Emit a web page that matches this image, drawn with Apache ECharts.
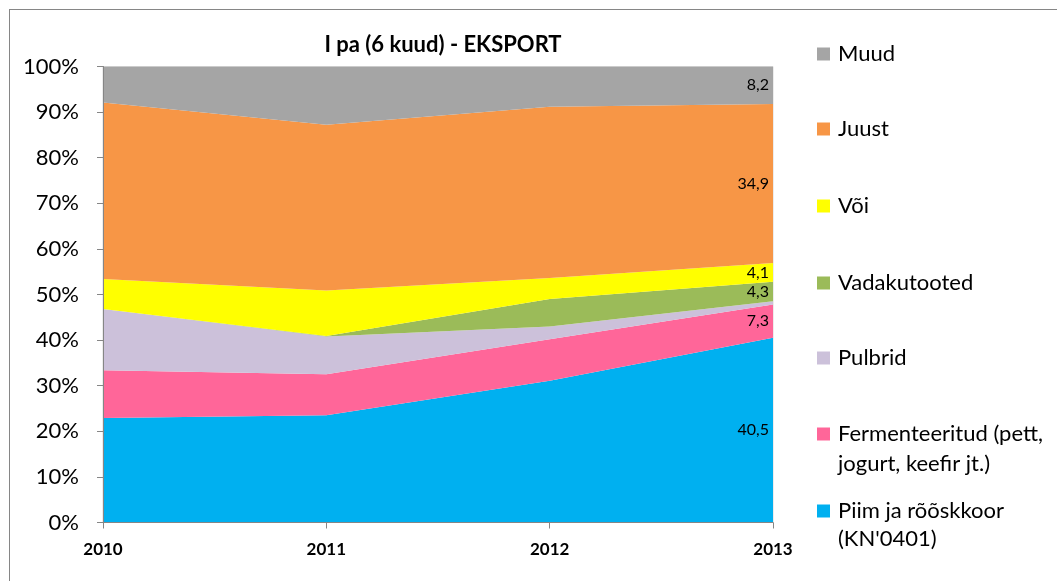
<!DOCTYPE html>
<html>
<head>
<meta charset="utf-8">
<script src="https://cdn.jsdelivr.net/npm/echarts@6/dist/echarts.min.js"></script>
<style>
  html, body { margin: 0; padding: 0; background: #fff; overflow: hidden; }
  #frame { position: absolute; left: 9px; top: 9px; width: 1200px; height: 800px; border: 1px solid #868686; }
  #main { position: absolute; left: 0; top: 0; width: 1057px; height: 581px; }
</style>
</head>
<body>
<div id="frame"></div>
<div id="main"></div>
<script>
// aastad (x-telg)
const years = ['2010', '2011', '2012', '2013'];
// osakaalud, % (loetud pildilt; 2013 väärtused on sildilt)
const piim = [22.9, 23.5, 31.1, 40.5];
const fermenteeritud = [10.5, 9.0, 9.1, 7.3];
const pulbrid = [13.4, 8.3, 2.8, 0.7];
const vadakutooted = [0, 0.1, 6.0, 4.3];
const voi = [6.6, 10.0, 4.6, 4.1];
const juust = [38.7, 36.3, 37.6, 34.9];
const muud = [7.9, 12.8, 8.8, 8.2];
// y-telje jaotised
const yTicks = [0, 10, 20, 30, 40, 50, 60, 70, 80, 90, 100];

// alt üles virnas
const stack = [
  { name: "Piim ja rõõskkoor\n(KN'0401)", data: piim, color: '#00B0F0', label: true },
  { name: 'Fermenteeritud (pett,\njogurt, keefir jt.)', data: fermenteeritud, color: '#FF6699', label: true },
  { name: 'Pulbrid', data: pulbrid, color: '#CCC1DA', label: false },
  { name: 'Vadakutooted', data: vadakutooted, color: '#9BBB59', label: true },
  { name: 'Või', data: voi, color: '#FFFF00', label: true },
  { name: 'Juust', data: juust, color: '#F79646', label: true },
  { name: 'Muud', data: muud, color: '#A5A5A5', label: true }
];

const FONT = 'Lato, "Open Sans", sans-serif';
const last = years.length - 1;

let base = 0;
const series = stack.map(function (s) {
  const v = s.data[last];
  const mid = base + v / 2;
  base += v;
  return {
    name: s.name,
    type: 'line',
    stack: 'kokku',
    data: s.data,
    symbol: 'none',
    lineStyle: { width: 0 },
    itemStyle: { color: s.color },
    areaStyle: { color: s.color, opacity: 1 },
    z: 2,
    markPoint: s.label ? {
      symbol: 'circle',
      symbolSize: 0,
      silent: true,
      label: {
        show: true,
        position: 'left',
        distance: 4,
        color: '#000',
        fontFamily: FONT,
        fontSize: 16,
        formatter: function (p) { return p.value.toFixed(1).replace('.', ','); }
      },
      data: [{ coord: [last, mid], value: v }]
    } : undefined
  };
});

// legend: üks komponent iga rea kohta (Exceli paigutus)
const legendTops = [
  { name: 'Muud', top: 35, lh: 28 },
  { name: 'Juust', top: 110, lh: 28 },
  { name: 'Või', top: 187, lh: 28 },
  { name: 'Vadakutooted', top: 264, lh: 28 },
  { name: 'Pulbrid', top: 339, lh: 28 },
  { name: 'Fermenteeritud (pett,\njogurt, keefir jt.)', top: 414, lh: 30, two: true },
  { name: "Piim ja rõõskkoor\n(KN'0401)", top: 492, lh: 28, two: true }
];
const legends = legendTops.map(function (l) {
  const h = 13 + l.lh;
  return {
    left: 812,
    top: l.top,
    orient: 'vertical',
    selectedMode: false,
    itemWidth: 13,
    itemHeight: l.two ? h : 13,
    icon: l.two ? 'path://M0,0h13v13h-13z M0,' + h : 'rect',
    itemStyle: { borderWidth: 0 },
    itemGap: 0,
    textStyle: { fontFamily: FONT, fontSize: 22, color: '#000', lineHeight: l.lh, padding: [0, 0, 0, 3] },
    data: [l.name]
  };
});

const chart = echarts.init(document.getElementById('main'), null, { renderer: 'canvas' });
chart.setOption({
  animation: false,
  backgroundColor: 'transparent',
  title: {
    text: 'I pa (6 kuud) - EKSPORT',
    left: 438,
    textAlign: 'center',
    top: 29,
    textStyle: { fontFamily: FONT, fontSize: 22, fontWeight: 'bold', color: '#000' }
  },
  legend: legends,
  grid: {
    left: 103, right: 284, top: 66.5, bottom: 58.5,
    show: true, borderColor: '#D9D9D9', borderWidth: 1, backgroundColor: 'transparent'
  },
  xAxis: {
    type: 'category',
    data: years,
    boundaryGap: false,
    axisLine: { lineStyle: { color: '#868686', width: 1 } },
    axisTick: { show: true, alignWithLabel: true, length: 6, lineStyle: { color: '#868686' } },
    axisLabel: { fontFamily: FONT, fontSize: 17, fontWeight: 'bold', color: '#000', margin: 19 },
    z: 5
  },
  yAxis: {
    type: 'value',
    min: yTicks[0],
    max: yTicks[yTicks.length - 1],
    interval: yTicks[1] - yTicks[0],
    axisLine: { show: true, lineStyle: { color: '#868686', width: 1 } },
    axisTick: { show: true, length: 6, lineStyle: { color: '#868686' } },
    splitLine: { show: false },
    axisLabel: { fontFamily: FONT, fontSize: 22, color: '#000', margin: 24, formatter: '{value}%' },
    z: 5
  },
  series: series
});
</script>
</body>
</html>
